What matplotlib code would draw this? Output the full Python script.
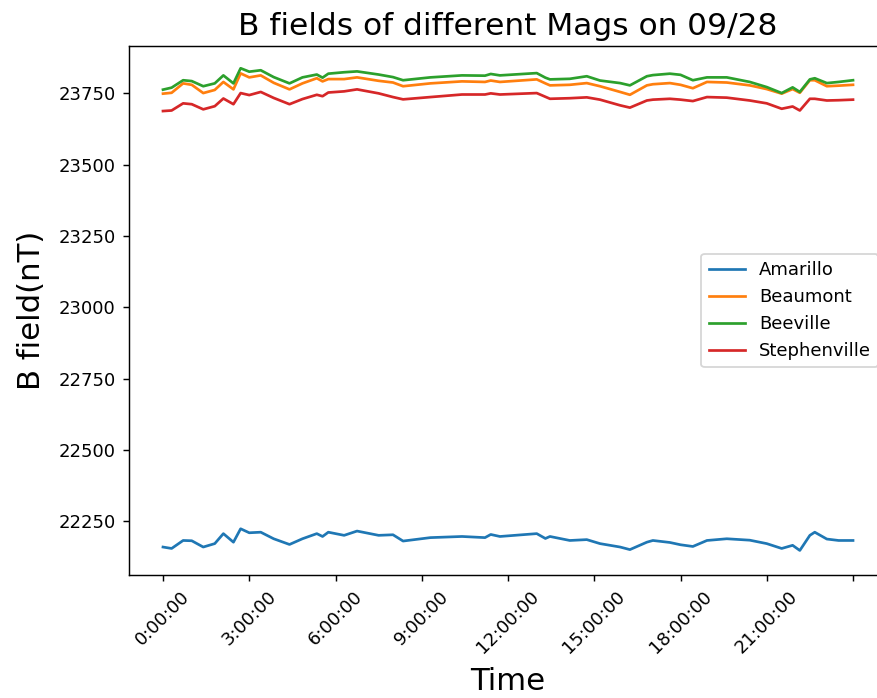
import numpy as np
import matplotlib.pyplot as plt

# sample times (hours after midnight) and field readings per magnetometer, nT
hours = [0.0, 0.3, 0.7, 1.0, 1.4, 1.8, 2.1, 2.45, 2.7, 3.0, 3.4, 3.85,
         4.4, 4.85, 5.35, 5.55, 5.75, 6.3, 6.75, 7.5, 8.0, 8.35, 9.3, 10.4,
         11.2, 11.4, 11.72, 13.0, 13.3, 13.46, 14.15, 14.74, 15.2, 15.9, 16.24, 16.83,
         17.04, 17.63, 18.0, 18.43, 18.92, 19.61, 20.41, 21.0, 21.52, 21.9, 22.15, 22.5,
         22.67, 23.09, 23.5, 24.0]

amarillo = [22160, 22155, 22183, 22182, 22160, 22172, 22207, 22177, 22224, 22210, 22212, 22189,
            22169, 22189, 22207, 22197, 22212, 22201, 22216, 22201, 22203, 22181, 22193, 22197,
            22193, 22204, 22197, 22207, 22190, 22197, 22183, 22186, 22172, 22160, 22151, 22177,
            22183, 22176, 22168, 22162, 22183, 22189, 22184, 22172, 22155, 22166, 22148, 22201,
            22212, 22188, 22183, 22183]

beaumont = [23749, 23752, 23785, 23780, 23751, 23762, 23790, 23764, 23820, 23806, 23813, 23787,
            23764, 23785, 23803, 23792, 23800, 23800, 23806, 23794, 23788, 23775, 23785, 23792,
            23790, 23795, 23790, 23799, 23785, 23778, 23780, 23786, 23775, 23755, 23745, 23778,
            23782, 23786, 23780, 23768, 23790, 23788, 23778, 23765, 23749, 23765, 23752, 23796,
            23796, 23775, 23777, 23780]

beeville = [23763, 23770, 23796, 23793, 23775, 23785, 23813, 23785, 23838, 23826, 23831, 23807,
            23785, 23806, 23816, 23805, 23819, 23824, 23827, 23816, 23807, 23796, 23806, 23813,
            23812, 23818, 23813, 23821, 23805, 23799, 23801, 23810, 23795, 23786, 23778, 23810,
            23814, 23819, 23815, 23796, 23806, 23806, 23790, 23772, 23751, 23771, 23755, 23799,
            23803, 23786, 23790, 23796]

stephenville = [23688, 23690, 23715, 23712, 23694, 23705, 23732, 23712, 23751, 23744, 23755, 23734,
                23712, 23730, 23745, 23740, 23753, 23757, 23764, 23750, 23737, 23729, 23737, 23746,
                23746, 23750, 23746, 23751, 23738, 23731, 23733, 23736, 23728, 23708, 23700, 23725,
                23728, 23731, 23728, 23723, 23737, 23735, 23725, 23715, 23696, 23704, 23690, 23731,
                23731, 23725, 23726, 23728]

mags = ["Amarillo", "Beaumont", "Beeville", "Stephenville"]
tick_labels = ["0:00:00", "3:00:00", "6:00:00", "9:00:00",
               "12:00:00", "15:00:00", "18:00:00", "21:00:00", ""]

minutes = np.array(hours) * 60

fig = plt.figure(figsize=(877 / 130, 698 / 130), dpi=130)
ax = fig.add_axes([128.5 / 877, 123 / 698, 759 / 877, 529 / 698])

for name, vals in zip(mags, [amarillo, beaumont, beeville, stephenville]):
    ax.plot(minutes, vals, label=name)

ax.set_xticks(np.arange(0, 1441, 180))
ax.set_xticklabels(tick_labels, rotation=45)
ax.set_ylim(22062, 23916)

ax.set_title("B fields of different Mags on 09/28", fontsize=17.3)
ax.set_xlabel("Time", fontsize=17, labelpad=5.5)
ax.set_ylabel("B field(nT)", fontsize=17, labelpad=7)
ax.legend(loc="center right")

fig.savefig("out.png", dpi=130)
plt.close(fig)
